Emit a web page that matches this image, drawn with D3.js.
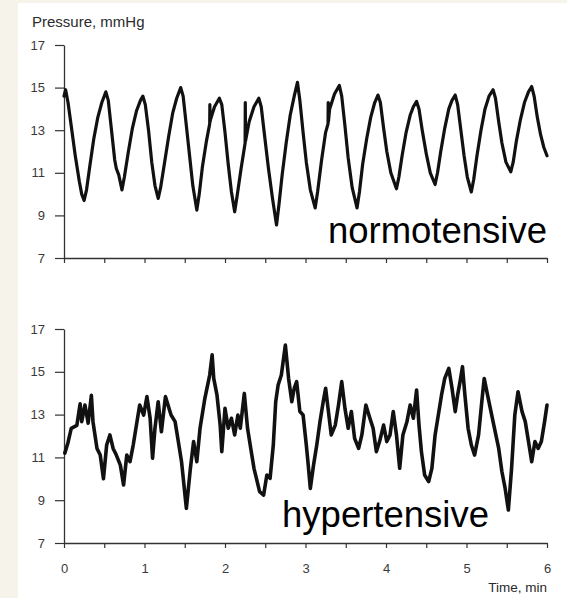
<!DOCTYPE html>
<html><head><meta charset="utf-8">
<script src="https://cdn.jsdelivr.net/npm/d3@7/dist/d3.min.js"></script>
<style>
html,body{margin:0;padding:0;background:#f6f3ea;}
svg{display:block;}
text{font-family:"Liberation Sans",Arial,Helvetica,sans-serif;}
</style></head>
<body>
<svg id="chart" width="567" height="598"></svg>
<script>
// ---- data ----
const yTickValues = [7, 9, 11, 13, 15, 17];
const xTickValues = [0, 0.5, 1, 1.5, 2, 2.5, 3, 3.5, 4, 4.5, 5, 5.5, 6];
const xTickLabels = ["0", "", "1", "", "2", "", "3", "", "4", "", "5", "", "6"];
const yAxisTitle = "Pressure, mmHg";
const xAxisTitle = "Time, min";
const seriesNames = ["normotensive", "hypertensive"];

const normoTime = [0.00,0.02,0.05,0.09,0.14,0.19,0.22,0.25,0.28,0.32,0.37,0.42,0.47,0.52,0.55,0.59,0.63,0.65,0.68,0.72,0.75,0.80,0.85,0.90,0.95,0.98,1.01,1.05,1.09,1.13,1.17,1.20,1.25,1.30,1.35,1.40,1.45,1.48,1.52,1.56,1.60,1.65,1.68,1.72,1.77,1.81,1.812,1.815,1.82,1.87,1.93,1.96,2.00,2.04,2.08,2.12,2.15,2.20,2.25,2.252,2.255,2.30,2.36,2.42,2.45,2.49,2.54,2.59,2.64,2.67,2.71,2.76,2.81,2.86,2.90,2.93,2.97,3.01,3.06,3.12,3.15,3.20,3.25,3.28,3.282,3.285,3.30,3.36,3.42,3.45,3.49,3.53,3.58,3.64,3.67,3.71,3.76,3.81,3.86,3.90,3.93,3.97,4.01,4.06,4.13,4.16,4.20,4.25,4.30,4.34,4.38,4.41,4.45,4.50,4.55,4.61,4.64,4.68,4.73,4.78,4.82,4.86,4.89,4.93,4.97,5.01,5.06,5.09,5.13,5.18,5.23,5.28,5.33,5.36,5.40,5.44,5.49,5.55,5.58,5.62,5.67,5.72,5.77,5.81,5.84,5.88,5.92,5.96,6.00];
const normoPressure = [14.6,14.9,14.3,13.2,11.8,10.6,10.0,9.7,10.2,11.3,12.6,13.6,14.3,14.8,14.4,13.0,11.6,11.2,10.9,10.2,10.8,12.0,13.1,13.9,14.4,14.6,14.2,13.0,11.5,10.4,9.8,10.3,11.5,12.7,13.8,14.5,15.0,14.6,13.2,11.8,10.4,9.25,10.0,11.3,12.5,13.3,14.2,13.4,13.5,14.1,14.5,14.2,12.9,11.4,10.1,9.17,9.9,11.2,12.4,14.3,12.5,13.4,14.1,14.5,14.1,12.8,11.2,9.8,8.55,9.5,10.9,12.4,13.7,14.6,15.25,14.4,12.9,11.5,10.2,9.35,10.1,11.6,12.9,13.3,14.3,13.4,14.0,14.7,15.1,14.6,13.2,11.7,10.3,9.35,10.1,11.4,12.6,13.6,14.3,14.65,14.3,13.1,12.0,11.0,10.25,10.8,11.8,12.9,13.7,14.1,14.35,14.0,13.0,11.9,11.0,10.45,11.0,12.0,13.1,14.0,14.4,14.65,14.2,13.0,11.8,10.8,10.1,10.7,11.8,13.0,14.0,14.6,14.9,14.5,13.4,12.4,11.5,11.05,11.5,12.5,13.5,14.3,14.8,15.05,14.6,13.6,12.8,12.2,11.8];

const hyperTime = [0.01,0.05,0.09,0.16,0.20,0.22,0.26,0.30,0.34,0.36,0.41,0.45,0.49,0.53,0.57,0.61,0.65,0.70,0.74,0.78,0.82,0.86,0.90,0.94,0.99,1.03,1.07,1.10,1.13,1.17,1.21,1.26,1.33,1.38,1.42,1.46,1.52,1.57,1.61,1.65,1.69,1.75,1.81,1.84,1.86,1.90,1.94,1.96,2.00,2.04,2.08,2.12,2.16,2.19,2.24,2.28,2.32,2.36,2.43,2.48,2.52,2.56,2.60,2.63,2.66,2.70,2.75,2.79,2.83,2.86,2.89,2.93,2.97,3.01,3.03,3.06,3.10,3.14,3.18,3.22,3.25,3.28,3.32,3.37,3.41,3.45,3.49,3.53,3.57,3.61,3.66,3.70,3.75,3.80,3.84,3.88,3.92,3.97,4.01,4.05,4.09,4.13,4.17,4.21,4.26,4.30,4.34,4.38,4.41,4.44,4.48,4.53,4.57,4.61,4.65,4.69,4.73,4.78,4.82,4.86,4.89,4.92,4.95,4.98,5.02,5.06,5.10,5.15,5.19,5.22,5.27,5.33,5.40,5.44,5.48,5.52,5.56,5.60,5.64,5.69,5.73,5.77,5.81,5.85,5.89,5.93,5.97,6.00];
const hyperPressure = [11.2,11.7,12.36,12.5,13.5,12.67,13.45,12.6,13.9,12.67,11.42,11.11,10.0,11.58,12.05,11.42,11.11,10.64,9.71,11.11,10.8,11.58,12.51,13.45,12.98,13.84,12.83,10.96,12.36,13.6,12.2,13.84,12.98,12.67,11.74,10.8,8.62,10.49,11.74,10.8,12.36,13.76,14.85,15.79,14.69,13.92,12.51,11.27,13.29,12.36,12.83,12.05,12.98,12.36,13.99,12.36,11.42,10.49,9.4,9.24,10.18,10.02,11.58,13.6,14.38,14.85,16.25,14.69,13.6,14.23,14.54,13.14,12.98,11.58,10.8,9.55,10.64,11.58,12.67,13.6,14.23,13.29,12.05,12.51,13.45,14.54,13.29,12.36,13.14,11.89,11.42,12.05,13.45,12.83,12.36,11.27,11.74,12.51,11.74,12.05,13.14,12.05,10.49,12.05,12.67,13.45,12.83,14.15,12.51,11.27,10.18,9.87,10.49,12.05,12.98,13.92,14.69,15.16,14.23,13.14,13.92,14.54,15.24,13.92,12.36,11.58,11.11,12.05,13.6,14.69,13.76,12.67,11.42,10.33,9.55,8.54,10.49,12.98,14.07,13.14,12.67,11.74,10.8,11.74,11.42,11.74,12.67,13.45];

// ---- drawing ----
const svg = d3.select("#chart");
svg.append("rect").attr("x", 18).attr("y", 3).attr("width", 549).attr("height", 595).attr("fill", "#ffffff");

const x = d3.scaleLinear().domain([0, 6]).range([64, 547]);
const yTop = d3.scaleLinear().domain([7, 17]).range([258, 45]);
const yBot = d3.scaleLinear().domain([7, 17]).range([543, 329]);

const axisColor = "#333";
const labelColor = "#3a3a3a";

function drawPanel(yScale, times, values, name, width, nameX, nameY) {
  const g = svg.append("g");
  const ya = g.append("g").attr("transform", `translate(${x(0)},0)`)
    .call(d3.axisLeft(yScale).tickValues(yTickValues).tickSize(9).tickSizeOuter(0).tickPadding(10));
  const xa = g.append("g").attr("transform", `translate(0,${yScale(7)})`)
    .call(d3.axisBottom(x).tickValues(xTickValues).tickSize(5).tickSizeOuter(0).tickFormat(() => ""));
  [ya, xa].forEach(a => {
    a.selectAll("path").attr("stroke", axisColor).attr("stroke-width", 1.3);
    a.selectAll("line").attr("stroke", axisColor).attr("stroke-width", 1.2);
    a.selectAll("text").attr("fill", labelColor).style("font-size", "13px");
  });
  const pts = times.map((t, i) => [t, values[i]]);
  const line = d3.line().x(d => x(d[0])).y(d => yScale(d[1])).curve(d3.curveLinear);
  g.append("path").datum(pts).attr("d", line)
    .attr("fill", "none").attr("stroke", "#111").attr("stroke-width", width)
    .attr("stroke-linejoin", "round").attr("stroke-linecap", "round");
  g.append("text").attr("x", nameX).attr("y", nameY).attr("text-anchor", "end")
    .style("font-size", "36.5px").attr("fill", "#000").text(name);
}

drawPanel(yTop, normoTime, normoPressure, seriesNames[0], 3.2, 547, 243);
drawPanel(yBot, hyperTime, hyperPressure, seriesNames[1], 3.6, 489, 527);

svg.append("g").attr("transform", `translate(0,${yBot(7)})`)
  .call(d3.axisBottom(x).tickValues(xTickValues).tickSize(0).tickPadding(21)
    .tickFormat((d, i) => xTickLabels[i]))
  .call(a => { a.select("path").remove(); a.selectAll("text").attr("fill", labelColor).style("font-size", "13px"); });

svg.append("text").attr("x", 32).attr("y", 27).style("font-size", "15px").attr("fill", "#2a2a2a").text(yAxisTitle);
svg.append("text").attr("x", 547).attr("y", 592).attr("text-anchor", "end").style("font-size", "13.5px").attr("fill", "#2a2a2a").text(xAxisTitle);
</script>
</body></html>
